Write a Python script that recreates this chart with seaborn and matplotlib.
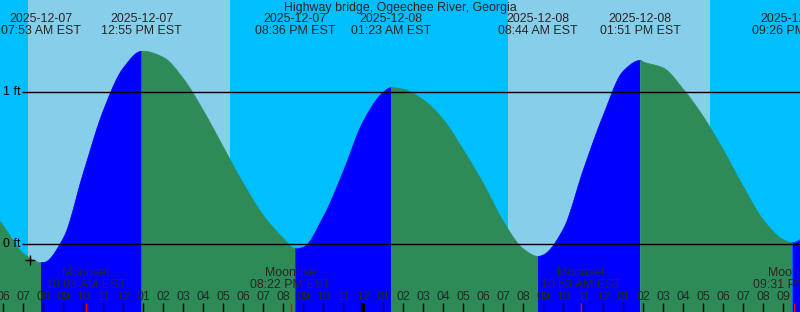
import numpy as np
import pandas as pd
import matplotlib
matplotlib.use("Agg")
import matplotlib.pyplot as plt
import seaborn as sns

# ---------------- data (hours since 2025-12-07 00:00 EST, heights in ft) ----------------
title = "Highway bridge, Ogeechee River, Georgia"

hour_times = [5, 6, 7, 8, 9, 10, 11, 12, 13, 14, 15, 16, 17, 18, 19, 20, 21, 22, 23, 24, 25,
              26, 27, 28, 29, 30, 31, 32, 33, 34, 35, 36, 37, 38, 39, 40, 41, 42, 43, 44, 45, 46]
hour_heights = [0.30, 0.12, -0.06, -0.12, 0.04, 0.47, 0.88, 1.16, 1.27, 1.23, 1.09, 0.88, 0.64,
                0.40, 0.19, 0.04, -0.02, 0.18, 0.48, 0.81, 1.00, 1.02, 0.95, 0.82, 0.62, 0.40,
                0.15, -0.03, -0.07, 0.10, 0.49, 0.85, 1.14, 1.20, 1.16, 1.02, 0.84, 0.62, 0.38,
                0.16, 0.03, 0.04]

extreme_times = [7.883, 12.917, 20.600, 25.383, 32.733, 37.850, 45.433]
extreme_heights = [-0.12, 1.27, -0.03, 1.03, -0.08, 1.21, 0.01]
extreme_dates = ["2025-12-07", "2025-12-07", "2025-12-07", "2025-12-08",
                 "2025-12-08", "2025-12-08", "2025-12-08"]
extreme_labels = ["07:53 AM EST", "12:55 PM EST", "08:36 PM EST", "01:23 AM EST",
                  "08:44 AM EST", "01:51 PM EST", "09:26 PM EST"]

sunrise_times = [7.233, 31.233]
sunset_times = [17.333, 41.333]

moon_times = [10.133, 20.367, 34.883, 45.517]
moon_events = ["Moonset", "Moonrise", "Moonset", "Moonrise"]
moon_labels = ["10:08 AM EST", "08:22 PM EST", "10:53 AM EST", "09:31 PM EST"]

level_values = [0, 1]
level_labels = ["0 ft", "1 ft"]

tick_hours = list(range(6, 46))
now_time, now_height = 7.33, -0.10

# ---------------- layout ----------------
W, H = 800, 312
X0, X1 = 5.833, 45.833
ZERO_PX, PX_PER_FT = 244.3, 152.0
Y_TOP = ZERO_PX / PX_PER_FT
Y_BOT = -(H - ZERO_PX) / PX_PER_FT

NIGHT, DAY = "#00BFFF", "#87CEEB"
RISE, FALL = "#0000FF", "#2E8B57"

sns.set_style("white")
plt.rcParams["font.family"] = ["Liberation Sans", "DejaVu Sans"]
FS = 8.9


def pchip_curve(x, y, n_per=12):
    """Smooth monotone cubic drawing path through the given points (rendering only)."""
    x = np.asarray(x, float)
    y = np.asarray(y, float)
    hs = np.diff(x)
    d = np.diff(y) / hs
    m = np.zeros_like(y)
    for k in range(1, len(x) - 1):
        if d[k - 1] * d[k] > 0:
            w1 = 2 * hs[k] + hs[k - 1]
            w2 = hs[k] + 2 * hs[k - 1]
            m[k] = (w1 + w2) / (w1 / d[k - 1] + w2 / d[k])
    m[0] = d[0]
    m[-1] = d[-1]
    xs, ys = [], []
    for k in range(len(x) - 1):
        s = np.linspace(0, 1, n_per, endpoint=False)
        h = hs[k]
        h00 = 2 * s**3 - 3 * s**2 + 1
        h10 = s**3 - 2 * s**2 + s
        h01 = -2 * s**3 + 3 * s**2
        h11 = s**3 - s**2
        xs.append(x[k] + s * h)
        ys.append(h00 * y[k] + h10 * h * m[k] + h01 * y[k + 1] + h11 * h * m[k + 1])
    xs.append([x[-1]])
    ys.append([y[-1]])
    return np.concatenate(xs), np.concatenate(ys)


fig = plt.figure(figsize=(W / 100, H / 100), dpi=100)
ax = fig.add_axes([0, 0, 1, 1])
ax.set_xlim(X0, X1)
ax.set_ylim(Y_BOT, Y_TOP)
ax.axis("off")
fig.patch.set_facecolor(NIGHT)
ax.add_patch(plt.Rectangle((0, 0), 1, 1, transform=ax.transAxes, color=NIGHT, zorder=0))

for sr, ss in zip(sunrise_times, sunset_times):
    ax.axvspan(sr, ss, color=DAY, lw=0, zorder=1)

# merged series (read hourly values + labelled extremes)
t_all = np.array(hour_times + extreme_times, dtype=float)
h_all = np.array(hour_heights + extreme_heights, dtype=float)
order = np.argsort(t_all)
t_all, h_all = t_all[order], h_all[order]
t_s, h_s = pchip_curve(t_all, h_all)

bounds = [t_all[0]] + extreme_times + [t_all[-1]]
rows = []
for i in range(len(bounds) - 1):
    b0, b1 = bounds[i], bounds[i + 1]
    m = (t_s >= b0 - 1e-9) & (t_s <= b1 + 1e-9)
    ts, hs = t_s[m], h_s[m]
    rising = hs[-1] > hs[0]
    col = RISE if rising else FALL
    ax.fill_between(ts, hs, Y_BOT - 1, color=col, lw=0, zorder=2)
    for tt, hh in zip(ts, hs):
        rows.append({"t": tt, "h": hh, "seg": i, "dir": "rise" if rising else "fall"})
df = pd.DataFrame(rows)
sns.lineplot(data=df, x="t", y="h", hue="dir", units="seg", estimator=None, sort=False,
             palette={"rise": RISE, "fall": FALL}, linewidth=0.5, legend=False, ax=ax, zorder=3)
ax.set_xlim(X0, X1)
ax.set_ylim(Y_BOT, Y_TOP)

# level lines + labels
x_line0 = X0 + 22 / 20.0
for v, lab in zip(level_values, level_labels):
    ax.hlines(v, x_line0, X1, color="black", lw=1.0, zorder=4)
    ax.text(X0 + 20.5 / 20.0, v, lab, ha="right", va="center", fontsize=FS, color="black", zorder=5)

# current-time marker
ax.plot([now_time], [now_height], marker="+", color="black", ms=7, mew=1.0, zorder=5)

xt = ax.get_xaxis_transform()


def fy(px):
    return 1 - px / H


# title and tide extreme labels
ax.text(0.5, fy(7.5), title, transform=ax.transAxes, ha="center", va="center", fontsize=FS, zorder=6)
for t, d, lab in zip(extreme_times, extreme_dates, extreme_labels):
    ax.text(t, fy(19.5), d, transform=xt, ha="center", va="center", fontsize=FS, zorder=6, clip_on=False)
    ax.text(t, fy(31.5), lab, transform=xt, ha="center", va="center", fontsize=FS, zorder=6, clip_on=False)

# hour ticks
for hr in tick_hours:
    lw = 3 if hr % 24 == 0 else 1
    ax.plot([hr, hr], [fy(303), 0], transform=xt, color="black", lw=lw, zorder=5,
            solid_capstyle="butt")
    ax.text(hr, fy(297.5), f"{(hr - 1) % 12 + 1:02d}", transform=xt, ha="center", va="center",
            fontsize=FS, zorder=6)

# moon events
for t, ev, lab in zip(moon_times, moon_events, moon_labels):
    ax.plot([t, t], [fy(303), 0], transform=xt, color="red", lw=1, zorder=5, solid_capstyle="butt")
    ax.text(t, fy(273.5), ev, transform=xt, ha="center", va="center", fontsize=FS, zorder=6)
    ax.text(t, fy(285.5), lab, transform=xt, ha="center", va="center", fontsize=FS, zorder=6)

fig.savefig("out.png", dpi=100, facecolor=NIGHT)
